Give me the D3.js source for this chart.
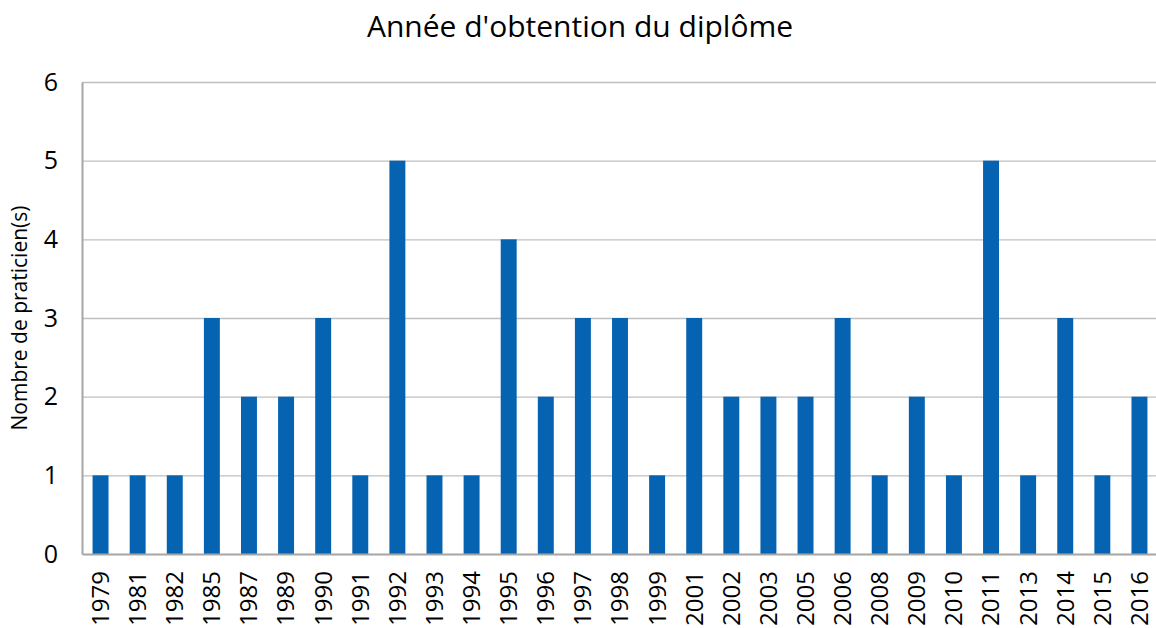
<!DOCTYPE html>
<html>
<head>
<meta charset="utf-8">
<script src="https://cdn.jsdelivr.net/npm/d3@7"></script>
<style>
  body { margin: 0; background: #fff; }
  svg { display: block; font-family: "Open Sans", sans-serif; }
</style>
</head>
<body>
<svg id="chart" width="1156" height="628"></svg>
<script>
const years = ["1979", "1981", "1982", "1985", "1987", "1989", "1990", "1991", "1992", "1993",
  "1994", "1995", "1996", "1997", "1998", "1999", "2001", "2002", "2003", "2005",
  "2006", "2008", "2009", "2010", "2011", "2013", "2014", "2015", "2016"];
const counts = [1, 1, 1, 3, 2, 2, 3, 1, 5, 1,
  1, 4, 2, 3, 3, 1, 3, 2, 2, 2,
  3, 1, 2, 1, 5, 1, 3, 1, 2];
const yTicks = [0, 1, 2, 3, 4, 5, 6];

const svg = d3.select("#chart");
const margin = { top: 82, right: -2, bottom: 74, left: 82 };
const width = +svg.attr("width") - margin.left - margin.right;
const height = +svg.attr("height") - margin.top - margin.bottom;

const x = d3.scaleBand()
  .domain(years)
  .range([0, width])
  .paddingInner(0.57)
  .paddingOuter(0.285);

const y = d3.scaleLinear().domain([0, 6]).range([height, 0]);

const g = svg.append("g").attr("transform", `translate(${margin.left},${margin.top})`);

// gridlines
g.selectAll(".grid")
  .data(yTicks.filter(d => d > 0))
  .enter()
  .append("line")
  .attr("x1", 0)
  .attr("x2", width)
  .attr("y1", d => y(d) + 0.5)
  .attr("y2", d => y(d) + 0.5)
  .attr("stroke", "#bfbfbf")
  .attr("stroke-width", 1.3);

// bars
g.selectAll(".bar")
  .data(counts)
  .enter()
  .append("rect")
  .attr("x", (d, i) => x(years[i]))
  .attr("y", d => y(d))
  .attr("width", x.bandwidth())
  .attr("height", d => height - y(d))
  .attr("fill", "#0563b1");

// y axis
const yAxis = g.append("g")
  .call(d3.axisLeft(y).tickValues(yTicks).tickFormat(d3.format("d")).tickSize(0).tickPadding(24));
yAxis.select(".domain").attr("stroke", "#a6a6a6").attr("stroke-width", 2);
yAxis.selectAll("text")
  .attr("font-size", 25)
  .attr("fill", "#000")
  .attr("font-family", "Open Sans");

// x axis
const xAxis = g.append("g")
  .attr("transform", `translate(0,${height})`)
  .call(d3.axisBottom(x).tickSize(0));
xAxis.select(".domain").attr("stroke", "#a6a6a6").attr("stroke-width", 2);
xAxis.selectAll("text")
  .attr("font-size", 24)
  .attr("fill", "#000")
  .attr("font-family", "Open Sans")
  .attr("transform", "rotate(-90)")
  .attr("text-anchor", "end")
  .attr("dy", "0.35em")
  .attr("x", -17)
  .attr("y", 0);

// title
svg.append("text")
  .attr("x", 580)
  .attr("y", 37)
  .attr("text-anchor", "middle")
  .attr("font-size", 30)
  .attr("fill", "#000")
  .text("Année d'obtention du diplôme");

// y axis title
svg.append("text")
  .attr("transform", `translate(27,${margin.top + height / 2}) rotate(-90)`)
  .attr("text-anchor", "middle")
  .attr("font-size", 21)
  .attr("fill", "#000")
  .text("Nombre de praticien(s)");
</script>
</body>
</html>
